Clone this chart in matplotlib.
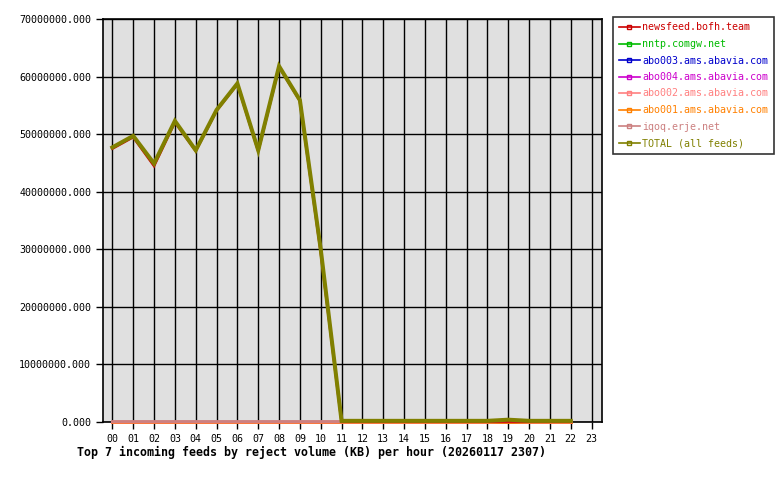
import matplotlib
matplotlib.use("Agg")
import matplotlib.pyplot as plt
from matplotlib.lines import Line2D

hours = list(range(24))
hour_labels = ["%02d" % h for h in hours]

# reject volume (KB) per hour, hours 00..22
newsfeed = [47.5e6, 49.5e6, 44.5e6, 52.1e6, 47.1e6, 54.1e6, 58.7e6, 47.1e6, 61.7e6, 55.8e6, 29.6e6,
            0.1e6, 0.1e6, 0.1e6, 0.1e6, 0.1e6, 0.1e6, 0.1e6, 0.1e6, 0.1e6, 0.1e6, 0.1e6, 0.1e6]
nntp = [0] * 23
abo003 = [0] * 23
abo004 = [0] * 23
abo002 = [0] * 19 + [0.1e6] + [0] * 3
abo001 = [0] * 23
iqoq = [0.12e6] * 23
total = [47.7e6, 49.7e6, 44.9e6, 52.3e6, 47.2e6, 54.2e6, 58.8e6, 47.2e6, 61.8e6, 55.9e6, 30.0e6,
         0.2e6, 0.2e6, 0.2e6, 0.2e6, 0.2e6, 0.2e6, 0.2e6, 0.2e6, 0.4e6, 0.2e6, 0.2e6, 0.2e6]

feeds = ["newsfeed.bofh.team", "nntp.comgw.net", "abo003.ams.abavia.com", "abo004.ams.abavia.com",
         "abo002.ams.abavia.com", "abo001.ams.abavia.com", "iqoq.erje.net", "TOTAL (all feeds)"]
series = [newsfeed, nntp, abo003, abo004, abo002, abo001, iqoq, total]
colors = ["#cc0000", "#00bb00", "#0000cc", "#cc00cc", "#ff8080", "#ff8000", "#cc8080", "#808000"]

plt.rcParams["font.family"] = "DejaVu Sans Mono"

fig = plt.figure(figsize=(7.8, 4.8), dpi=100)
ax = fig.add_axes([103 / 780, 58 / 480, 499 / 780, 403 / 480])
ax.set_facecolor("#e0e0e0")

# draw the zero feeds first, then the big ones on top
order = [1, 2, 3, 5, 4, 6, 0, 7]
for i in order:
    lw = 2.9 if i == 7 else 2.0
    ax.plot(hours[:len(series[i])], series[i], color=colors[i], lw=lw,
            solid_joinstyle="miter", zorder=3 + (i == 7), clip_on=False)

ax.set_xlim(-0.45, 23.5)
ax.set_ylim(0, 70e6)
ax.set_xticks(hours)
ax.set_xticklabels(hour_labels)
yt = [i * 10e6 for i in range(8)]
ax.set_yticks(yt)
ax.set_yticklabels(["%.3f" % v for v in yt])
ax.grid(True, color="black", lw=1, zorder=1)
ax.set_axisbelow(True)
for s in ax.spines.values():
    s.set_linewidth(1.2)
ax.tick_params(axis="both", labelsize=7.2, length=5, width=1, colors="black")

fig.text(77 / 780, (480 - 452) / 480, "Top 7 incoming feeds by reject volume (KB) per hour (20260117 2307)",
         fontsize=8.4, fontweight="bold", va="center", ha="left")

handles = [Line2D([0, 1, 2], [0, 0, 0], color=c, lw=1.2, marker="s", markersize=2.5,
                  markerfacecolor="none", markevery=[1]) for c in colors]
leg = fig.legend(handles, feeds, loc="upper left", bbox_to_anchor=(613 / 780, 1 - 17 / 480),
                 fontsize=7.2, labelcolor=colors, frameon=True, fancybox=False, edgecolor="black",
                 handlelength=2.1, handletextpad=0.25, borderpad=0.55, labelspacing=0.65,
                 borderaxespad=0)
leg.get_frame().set_linewidth(1.2)

fig.savefig("out.png", dpi=100, facecolor="white")
